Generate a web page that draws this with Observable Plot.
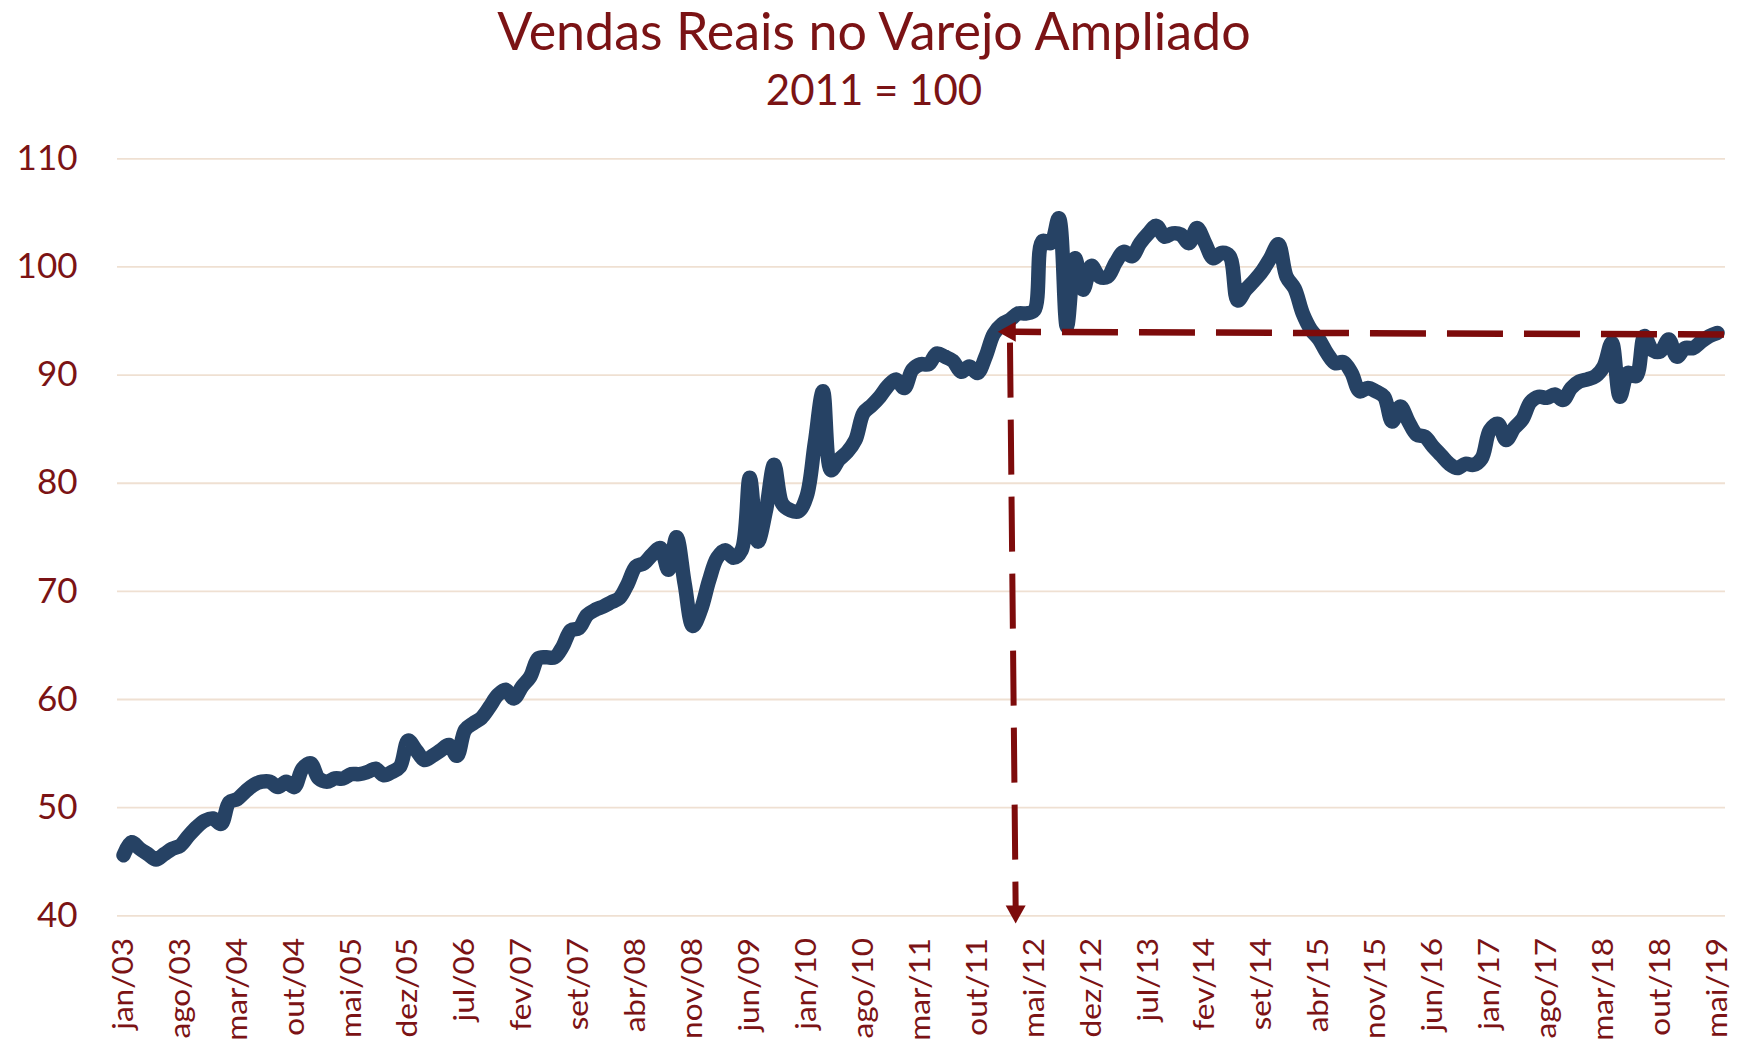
<!DOCTYPE html>
<html>
<head>
<meta charset="utf-8">
<script src="https://cdn.jsdelivr.net/npm/d3@7"></script>
<script src="https://cdn.jsdelivr.net/npm/@observablehq/plot@0.6"></script>
<style>
  html, body { margin: 0; padding: 0; background: #ffffff; }
  #wrap { width: 1740px; height: 1050px; position: relative; overflow: hidden; background: #fff; }
  #header { position: relative; height: 120px; }
  .t { position: absolute; left: 4px; width: 1740px; text-align: center; color: #7b1315;
       font-family: Lato, "Open Sans", sans-serif; line-height: 1; white-space: nowrap; }
  #chart svg { display: block; overflow: visible; }
</style>
</head>
<body>
<div id="wrap">
  <div id="header">
    <div class="t" id="title" style="top:4px;font-size:52px;">Vendas Reais no Varejo Ampliado</div>
    <div class="t" id="sub" style="top:68px;font-size:42px;">2011 = 100</div>
  </div>
  <div id="chart"></div>
</div>
<script>
// ---- data (monthly index, jan/03 .. mai/19) ----
const startYear = 2003;
const monthAbbr = ["jan","fev","mar","abr","mai","jun","jul","ago","set","out","nov","dez"];
const values = [
  45.6, 46.8, 46.2, 45.7, 45.2, 45.7, 46.2, 46.5, 47.4, 48.2, 48.8, 49.0,   // 2003
  48.5, 50.5, 50.8, 51.5, 52.1, 52.4, 52.4, 51.9, 52.4, 51.9, 53.6, 54.1,   // 2004
  52.7, 52.4, 52.7, 52.7, 53.1, 53.1, 53.3, 53.6, 53.0, 53.3, 53.8, 56.2,   // 2005
  55.3, 54.4, 54.8, 55.3, 55.8, 54.8, 57.2, 57.8, 58.3, 59.3, 60.4, 60.9,   // 2006
  60.1, 61.2, 62.1, 63.8, 63.9, 63.9, 64.9, 66.4, 66.6, 67.8, 68.3, 68.6,   // 2007
  69.0, 69.4, 70.7, 72.3, 72.6, 73.4, 74.0, 72.0, 75.0, 70.7, 66.8, 68.3,   // 2008
  71.0, 73.1, 73.8, 73.1, 73.8, 80.5, 74.6, 77.5, 81.7, 78.1, 77.5, 77.4,   // 2009
  78.8, 83.7, 88.5, 81.2, 82.2, 82.9, 84.0, 86.5, 87.2, 88.0, 89.0, 89.6,   // 2010
  88.8, 90.5, 91.0, 91.0, 92.0, 91.7, 91.3, 90.3, 90.8, 90.2, 91.7, 93.8,   // 2011
  94.7, 95.1, 95.7, 95.7, 96.0, 102.4, 102.2, 104.5, 94.5, 100.8, 97.9, 100.1, // 2012
  99.1, 99.1, 100.4, 101.4, 101.0, 102.2, 103.1, 103.8, 102.8, 103.1, 103.0, 102.2, // 2013
  103.6, 102.2, 100.8, 101.3, 101.0, 96.9, 97.9, 98.7, 99.6, 100.8, 102.1, 99.1, // 2014
  98.0, 95.7, 94.2, 93.3, 92.0, 91.1, 91.2, 90.2, 88.5, 88.8, 88.5, 88.0,   // 2015
  85.7, 87.1, 85.7, 84.5, 84.3, 83.4, 82.6, 81.8, 81.4, 81.8, 81.7, 82.3,   // 2016
  84.9, 85.5, 84.0, 85.1, 85.9, 87.5, 88.0, 87.9, 88.2, 87.7, 88.8, 89.4,   // 2017
  89.6, 89.9, 90.8, 93.0, 88.0, 90.2, 89.9, 93.6, 92.3, 92.2, 93.3, 91.7,   // 2018
  92.5, 92.5, 93.1, 93.6, 93.9                                              // 2019
];
const yTicks = [40, 50, 60, 70, 80, 90, 100, 110];
const tickEvery = 7;

// reference annotation (level reached in fev/12, dashed arrows)
const refIndex = [109.0, 109.7];   // vertical arrow: top, bottom (month index)
const refLevel = [94.0, 93.75];    // horizontal dashed level: left, right
const refEndIndex = 196.8;
const refVertical = [93.0, 40.6];  // vertical dashed span (values)
const arrowDownAt = [109.7, 40.31];
const arrowLeftAt = [108.85, 94.0];

// ---- build ----
const data = values.map((v, i) => ({i, v}));
const tickIdx = d3.range(0, values.length, tickEvery);
const label = i => monthAbbr[i % 12] + "/" + String((startYear + Math.floor(i / 12)) % 100).padStart(2, "0");

const red = "#7d0b0b";
const textColor = "#7b1315";
const triDown = {draw(ctx) { ctx.moveTo(-10, -7); ctx.lineTo(10, -7); ctx.lineTo(0, 11); ctx.closePath(); }};
const triLeft = {draw(ctx) { ctx.moveTo(7, -10); ctx.lineTo(7, 10); ctx.lineTo(-11, 0); ctx.closePath(); }};

const hLine = [{x1: refIndex[0], y1: refLevel[0], x2: refEndIndex, y2: refLevel[1]}];
const vLine = [{x1: refIndex[0], y1: refVertical[0], x2: refIndex[1], y2: refVertical[1]}];

const chart = Plot.plot({
  width: 1740,
  height: 930,
  marginLeft: 117,
  marginRight: 15,
  marginTop: 38.3,
  marginBottom: 134.7,
  x: {domain: [-0.74, 196.98], axis: null},
  y: {domain: [40, 110], axis: null},
  style: {fontFamily: "Lato, 'Open Sans', sans-serif", color: textColor, background: "transparent"},
  marks: [
    Plot.gridY(yTicks, {stroke: "#efe0d2", strokeOpacity: 1, strokeWidth: 1.8}),
    Plot.axisY(yTicks, {tickSize: 0, tickPadding: 40, fontSize: 35, fill: textColor}),
    Plot.axisX(tickIdx, {tickSize: 0, tickPadding: 22, tickRotate: -90, tickFormat: label, fontSize: 29, fill: textColor}),
    Plot.line(data, {x: "i", y: "v", curve: "catmull-rom", stroke: "#264264", strokeWidth: 14.5, strokeLinejoin: "round", strokeLinecap: "round"}),
    Plot.link(hLine, {x1: "x1", y1: "y1", x2: "x2", y2: "y2", stroke: red, strokeWidth: 6.5, strokeDasharray: "56,21", strokeDashoffset: 25}),
    Plot.link(vLine, {x1: "x1", y1: "y1", x2: "x2", y2: "y2", stroke: red, strokeWidth: 6, strokeDasharray: "55,22"}),
    Plot.dot([arrowDownAt], {x: d => d[0], y: d => d[1], symbol: triDown, fill: red, stroke: "none"}),
    Plot.dot([arrowLeftAt], {x: d => d[0], y: d => d[1], symbol: triLeft, fill: red, stroke: "none"})
  ]
});
document.getElementById("chart").appendChild(chart);

// stretch the rotated month labels along their reading direction (as in the reference)
chart.querySelectorAll('g[aria-label="x-axis tick label"] text').forEach(t => {
  const tr = t.getAttribute("transform") || "";
  t.setAttribute("transform", tr + " scale(1.09,1)");
});
</script>
</body>
</html>
